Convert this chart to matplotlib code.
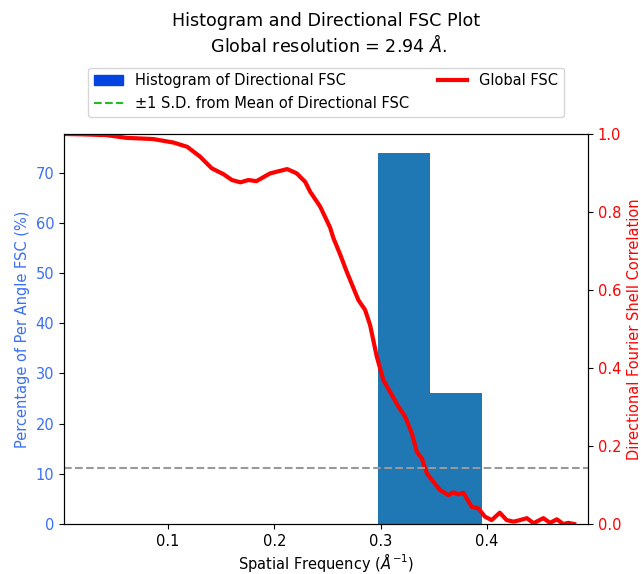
import matplotlib
matplotlib.use("Agg")
import matplotlib.pyplot as plt
from matplotlib.patches import Patch
from matplotlib.lines import Line2D

# Histogram of directional FSC (percent per bin)
hist_edges = [0.2975, 0.3465, 0.3955]
hist_pct = [74, 26]

# Global FSC curve
freq = [0.002, 0.02, 0.042, 0.061, 0.086, 0.105, 0.118, 0.130, 0.141, 0.152,
        0.160, 0.168, 0.1755, 0.183, 0.196, 0.212, 0.221, 0.229, 0.2336, 0.243,
        0.2524, 0.2555, 0.262, 0.268, 0.279, 0.2853, 0.290, 0.2963, 0.3025, 0.3088,
        0.3166, 0.323, 0.3292, 0.334, 0.3387, 0.3434, 0.3496, 0.3559, 0.3637, 0.3684,
        0.373, 0.3778, 0.3856, 0.3918, 0.398, 0.4044, 0.412, 0.4185, 0.425, 0.431,
        0.4375, 0.4437, 0.453, 0.4593, 0.4656, 0.4718, 0.4765, 0.482]
fsc = [1.0, 0.999, 0.997, 0.99, 0.987, 0.978, 0.967, 0.942, 0.912, 0.897,
       0.882, 0.876, 0.882, 0.879, 0.899, 0.910, 0.899, 0.877, 0.852, 0.814,
       0.760, 0.733, 0.690, 0.647, 0.574, 0.549, 0.510, 0.429, 0.369, 0.339,
       0.301, 0.275, 0.233, 0.185, 0.168, 0.130, 0.108, 0.087, 0.074, 0.081,
       0.076, 0.080, 0.044, 0.040, 0.019, 0.010, 0.029, 0.010, 0.006, 0.010,
       0.015, 0.002, 0.015, 0.003, 0.012, 0.0, 0.003, 0.0]

threshold = 0.143
global_res = 2.94

plt.rcParams['font.size'] = 10.5

blue_txt = '#3b6ff5'
red = '#ff0000'

fig = plt.figure(figsize=(6.41, 5.74), dpi=100)
ax = fig.add_axes([0.0998, 0.0871, 0.8175, 0.6795])

widths = [hist_edges[i + 1] - hist_edges[i] for i in range(len(hist_pct))]
ax.bar(hist_edges[:-1], hist_pct, width=widths, align='edge', color='#1f77b4')
ax.set_xlim(0.002, 0.495)
ax.set_ylim(0, 77.7)
ax.set_ylabel('Percentage of Per Angle FSC (%)', color=blue_txt)
ax.tick_params(axis='y', labelcolor=blue_txt)
ax.set_xlabel(r'Spatial Frequency ($\AA^{-1}$)', labelpad=1.5)
ax.set_xticks([0.1, 0.2, 0.3, 0.4])

ax2 = ax.twinx()
ax2.plot(freq, fsc, color=red, lw=3)
ax2.axhline(threshold, color='#999999', ls='--', lw=1.5)
ax2.set_ylim(0, 1)
ax2.set_ylabel('Directional Fourier Shell Correlation', color=red)
ax2.tick_params(axis='y', labelcolor=red)

ax.set_title('Histogram and Directional FSC Plot\n Global resolution = %.2f $\\AA$.' % global_res,
             fontsize=12.6, pad=59)

handles = [Patch(color='#0343df', label='Histogram of Directional FSC'),
           Line2D([], [], color='#22bb22', ls='--', label='±1 S.D. from Mean of Directional FSC'),
           Line2D([], [], color=red, lw=3, label='Global FSC')]
ax.legend(handles=handles, loc='lower center', bbox_to_anchor=(0.5, 1.026), ncol=2)

fig.savefig('out.png', dpi=100)
